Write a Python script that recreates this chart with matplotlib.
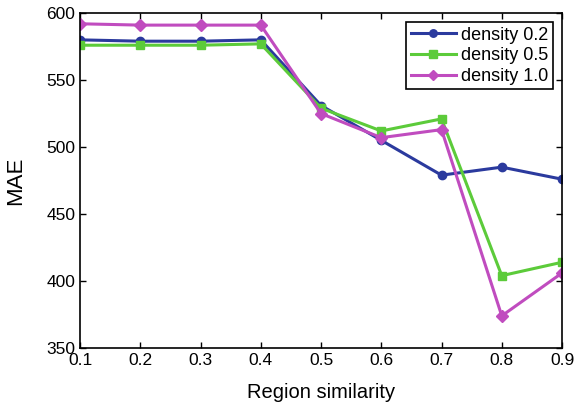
import matplotlib
matplotlib.use("Agg")
import matplotlib.pyplot as plt

x = [0.1, 0.2, 0.3, 0.4, 0.5, 0.6, 0.7, 0.8, 0.9]
d02 = [580, 579, 579, 580, 531, 505, 479, 485, 476]
d05 = [576, 576, 576, 577, 529, 512, 521, 404, 414]
d10 = [592, 591, 591, 591, 525, 507, 513, 374, 406]
labels = ["density 0.2", "density 0.5", "density 1.0"]

plt.rcParams['font.family'] = ['Liberation Sans', 'DejaVu Sans']
fig = plt.figure(figsize=(5.8, 4.08), dpi=100)
ax = fig.add_axes([0.138, 0.147, 0.831, 0.821])

ax.plot(x, d02, color='#2b3a9e', marker='o', markersize=6, linewidth=2.2, label=labels[0])
ax.plot(x, d05, color='#5ccb3a', marker='s', markersize=6, linewidth=2.2, label=labels[1])
ax.plot(x, d10, color='#c04cbf', marker='D', markersize=6, linewidth=2.2, label=labels[2])

ax.set_xlim(0.1, 0.9)
ax.set_ylim(350, 600)
ax.set_xticks(x)
ax.set_xticklabels([f"{v:.1f}" for v in x])
ax.set_yticks([350, 400, 450, 500, 550, 600])
ax.tick_params(direction='in', top=True, right=True, labelsize=12.5, length=4, width=1)
for s in ax.spines.values():
    s.set_linewidth(1.2)
ax.set_xlabel("Region similarity", fontsize=14.5, labelpad=11)
ax.set_ylabel("MAE", fontsize=16, labelpad=14)

leg = ax.legend(loc='upper right', fontsize=13, fancybox=False, framealpha=1,
                edgecolor='black', handlelength=2.5, borderpad=0.25, labelspacing=0.2,
                handletextpad=0.3, borderaxespad=0.5, markerscale=0.9)
leg.get_frame().set_linewidth(1.2)

fig.savefig("out.png", dpi=100)
